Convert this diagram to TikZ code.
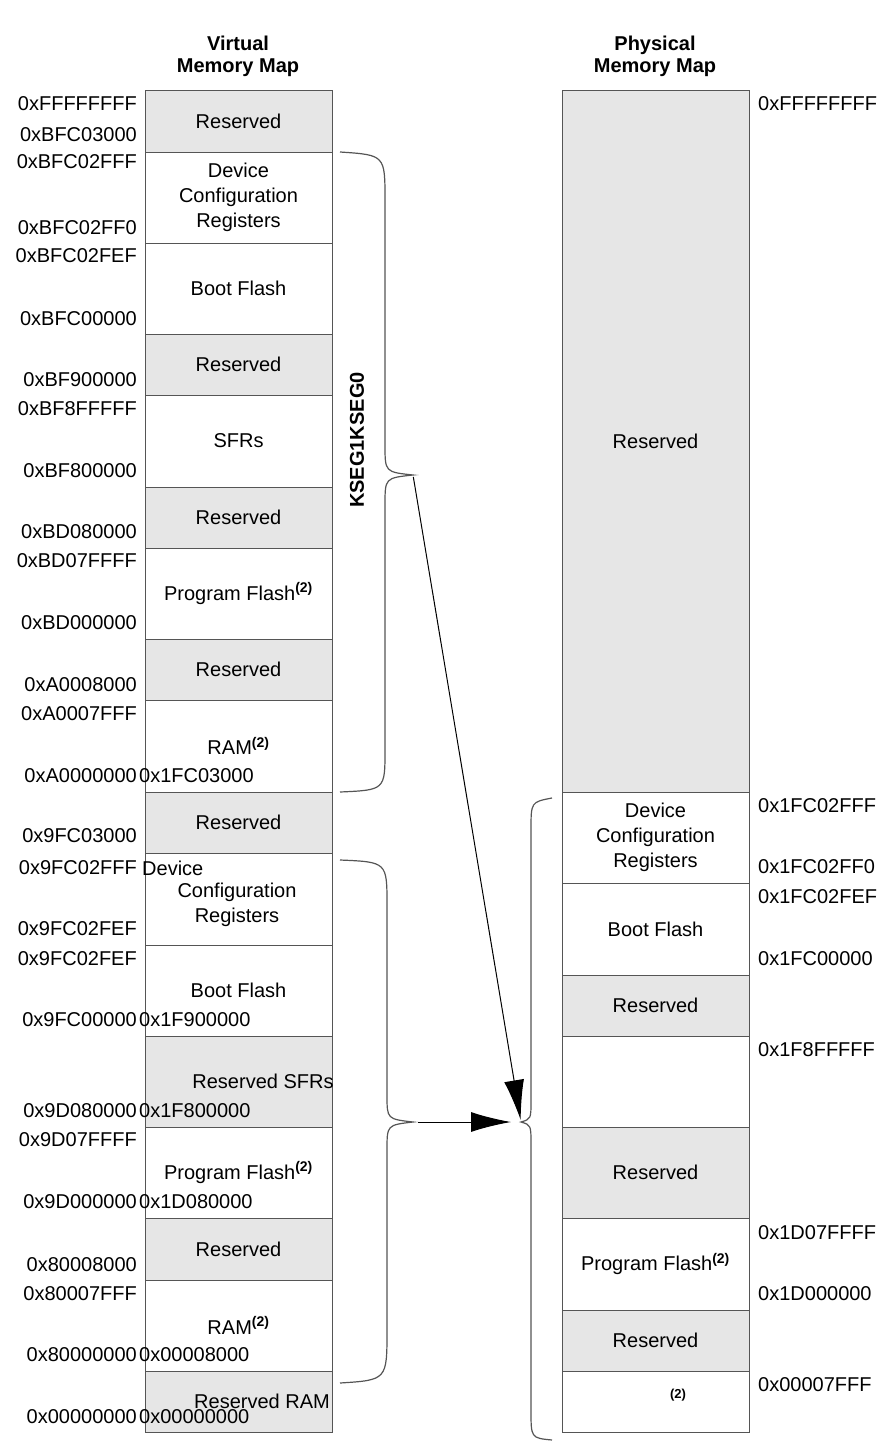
\documentclass[tikz,border=0pt]{standalone}
\usepackage{fontspec}
\setmainfont{Liberation Sans}
\usetikzlibrary{arrows.meta}
\definecolor{resgray}{HTML}{E6E6E6}
\definecolor{linegray}{HTML}{555555}
\tikzstyle{block} = [rectangle, draw=linegray, line width=1pt, fill=white, inner sep=0pt, minimum width=187pt, align=center]
\tikzstyle{reserved} = [block, fill=resgray]
\tikzstyle{addr} = [inner sep=0pt, anchor=east]
\tikzstyle{raddr} = [inner sep=0pt, anchor=west]
\tikzstyle{brace} = [draw=linegray, line width=1.2pt]
\tikzstyle{connector} = [line width=1pt, -{Latex[length=40pt,width=20pt]}]
\newcommand{\fnt}{\fontsize{20}{25}\selectfont}
\newcommand{\two}{\textsuperscript{\bfseries(2)}}
\begin{document}
\begin{tikzpicture}[x=1pt, y=-1pt, font=\fnt]
            \useasboundingbox (0,0) rectangle (890,1445);
            % headers
            \node[align=center] (vhead) at (238,56) {\bfseries Virtual\\[-3pt]\bfseries Memory Map};
            \node[align=center] (phead) at (655,56) {\bfseries Physical\\[-3pt]\bfseries Memory Map};
            % virtual memory map
            \foreach \name/\top/\bot/\sty/\txt in {
                v1/90/152/reserved/Reserved, v2/152/243/block/{Device\\Configuration\\Registers},
                v3/243/334/block/Boot Flash, v4/334/395/reserved/Reserved,
                v5/395/487/block/SFRs, v6/487/548/reserved/Reserved,
                v7/548/639/block/Program Flash\two, v8/639/700/reserved/Reserved,
                v9/700/792/block/RAM\two, v10/792/853/reserved/Reserved,
                v11/853/945/block/{}, v12/945/1036/block/Boot Flash,
                v13/1036/1127/reserved/{}, v14/1127/1218/block/Program Flash\two,
                v15/1218/1280/reserved/Reserved, v16/1280/1371/block/RAM\two,
                v17/1371/1432/reserved/{}}
                \node[\sty, minimum height=\bot-\top] (\name) at (238.5,{(\top+\bot)/2}) {\txt};
            \node (dev) [anchor=west, inner sep=0pt] at (142,868) {Device};
            \node (cfg) [align=center] at (237,905) {Configuration\\Registers};
            \node (rsfr) at (263,1081) {Reserved SFRs};
            \node (rram) at (262,1401) {Reserved RAM};
            % physical memory map
            \foreach \name/\top/\bot/\sty/\txt in {
                p1/90/792/reserved/Reserved, p2/792/883/block/{Device\\Configuration\\Registers},
                p3/883/975/block/Boot Flash, p4/975/1036/reserved/Reserved,
                p5/1036/1127/block/{}, p6/1127/1218/reserved/Reserved,
                p7/1218/1310/block/Program Flash\two, p8/1310/1371/reserved/Reserved,
                p9/1371/1432/block/{}}
                \node[\sty, minimum height=\bot-\top] (\name) at (655.5,{(\top+\bot)/2}) {\txt};
            \node (ptwo) at (678,1395) {\fontsize{13}{15}\selectfont\bfseries(2)};
            % virtual addresses
            \foreach \y/\a in {104/0xFFFFFFFF, 135/0xBFC03000, 162/0xBFC02FFF, 228/0xBFC02FF0,
                256/0xBFC02FEF, 319/0xBFC00000, 380/0xBF900000, 409/0xBF8FFFFF, 471/0xBF800000,
                532/0xBD080000, 561/0xBD07FFFF, 623/0xBD000000, 685/0xA0008000, 714/0xA0007FFF,
                776/0xA0000000, 836/0x9FC03000, 868/0x9FC02FFF, 929/0x9FC02FEF, 959/0x9FC02FEF,
                1020/0x9FC00000, 1111/0x9D080000, 1140/0x9D07FFFF, 1202/0x9D000000,
                1265/0x80008000, 1294/0x80007FFF, 1355/0x80000000, 1417/0x00000000}
                \node[addr] at (137,\y) {\a};
            \foreach \y/\a in {776/0x1FC03000, 1020/0x1F900000, 1111/0x1F800000,
                1202/0x1D080000, 1355/0x00008000, 1417/0x00000000}
                \node[raddr] at (139,\y) {\a};
            % physical addresses
            \foreach \y/\a in {104/0xFFFFFFFF, 806/0x1FC02FFF, 867/0x1FC02FF0, 897/0x1FC02FEF,
                959/0x1FC00000, 1050/0x1F8FFFFF, 1233/0x1D07FFFF, 1294/0x1D000000, 1385/0x00007FFF}
                \node[raddr] at (758,\y) {\a};
            % segment label
            \node (kseg) [rotate=90, font=\fnt\bfseries] at (357,440) {KSEG1KSEG0};
            % braces
            \coordinate (k1tip) at (413,475);
            \coordinate (k0tip) at (413,1122);
            \coordinate (ptip) at (521,1122);
            \draw[brace] (340,152) .. controls (385,155) .. (385,200) -- (385,445)
                .. controls (385,472) .. (k1tip) .. controls (385,478) .. (385,505)
                -- (385,750) .. controls (385,790) .. (340,792);
            \draw[brace] (340,860) .. controls (387,862) .. (387,905) -- (387,1095)
                .. controls (387,1119) .. (k0tip) .. controls (387,1125) .. (387,1150)
                -- (387,1330) .. controls (387,1380) .. (340,1383);
            \draw[brace] (552,798) .. controls (531,802) .. (531,830) -- (531,1100)
                .. controls (531,1119) .. (ptip) .. controls (531,1125) .. (531,1145)
                -- (531,1410) .. controls (531,1438) .. (552,1440);
            % mapping arrows
            \draw[connector, shorten <=2pt, shorten >=2pt] (k1tip) -- (ptip);
            \draw[connector, shorten <=5pt, shorten >=10pt] (k0tip) -- (ptip);
        \end{tikzpicture}
\end{document}
